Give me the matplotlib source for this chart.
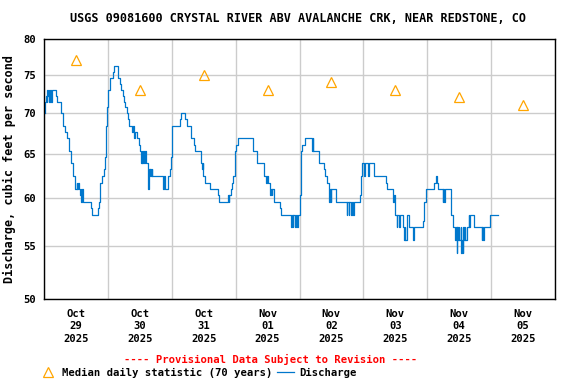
import numpy as np
import pandas as pd
import matplotlib
matplotlib.use("Agg")
import matplotlib.pyplot as plt
import matplotlib.dates as mdates
from matplotlib.lines import Line2D
from matplotlib.ticker import FixedLocator, NullLocator, FuncFormatter

# discharge step changes: hours after 2025-10-29 00:00, value in cfs
hours = [0.25, 0.5, 0.75, 1.0, 1.25, 1.5, 1.75, 2.0, 2.25, 2.5, 2.75, 3.0, 4.5, 5.0,
         6.25, 6.5, 7.25, 8.0, 8.5, 9.25, 9.5, 10.25, 11.0, 11.75, 12.25, 12.5, 12.75,
         13.0, 13.5, 13.75, 14.0, 14.25, 14.75, 17.5, 17.9, 20.4, 20.75, 21.1, 21.75,
         22.5, 22.9, 23.25, 23.5, 24.1, 24.9, 25.9, 26.25, 27.9, 28.5, 28.9, 29.6, 30.1,
         30.4, 31.0, 31.6, 32.0, 33.25, 33.5, 33.75, 34.0, 34.25, 35.0, 35.6, 36.0, 36.5,
         36.75, 37.0, 37.25, 37.75, 38.0, 38.5, 39.1, 39.25, 39.5, 39.75, 40.0, 40.25,
         40.5, 40.75, 44.75, 45.0, 45.5, 46.6, 47.25, 47.9, 48.25, 51.0, 51.6, 53.1,
         53.9, 55.1, 56.25, 56.6, 59.1, 59.4, 59.6, 59.75, 60.6, 62.25, 65.4, 65.75,
         69.1, 69.4, 69.6, 70.1, 70.75, 71.0, 71.6, 72.25, 72.9, 78.5, 80.0, 82.5, 83.5,
         83.75, 84.0, 84.75, 85.0, 85.25, 85.5, 85.75, 86.6, 88.5, 89.1, 92.9, 93.1, 93.4,
         93.6, 94.25, 94.5, 95.0, 95.25, 95.75, 96.25, 96.5, 96.75, 97.0, 97.9, 100.75,
         101.0, 101.25, 103.5, 105.1, 105.4, 106.4, 107.0, 107.25, 107.5, 107.75, 108.0,
         109.75, 113.75, 114.0, 114.5, 114.75, 115.5, 115.75, 116.25, 116.5, 118.25,
         118.75, 119.1, 119.5, 120.4, 120.6, 121.75, 122.0, 124.1, 128.5, 128.9, 131.0,
         131.25, 131.5, 132.0, 132.5, 132.75, 133.5, 133.75, 135.0, 135.25, 135.5, 135.75,
         136.25, 137.0, 138.75, 139.0, 142.25, 142.9, 143.5, 146.6, 147.25, 147.5, 147.9,
         149.75, 150.0, 150.25, 150.5, 152.9, 153.1, 153.5, 154.5, 154.75, 155.0, 155.25,
         155.5, 155.75, 156.0, 156.5, 156.75, 157.0, 157.25, 157.5, 157.75, 158.0, 158.25,
         158.75, 159.5, 159.75, 160.0, 161.4, 164.1, 164.5, 164.75, 165.0, 165.5, 166.25,
         167.5, 170.4]
flow = [70.0, 71.4, 72.2, 71.4, 72.9, 72.2, 72.9, 71.4, 72.9, 72.2, 71.4, 72.9, 72.2, 71.4,
        70.7, 70.0, 68.4, 67.6, 66.9, 66.1, 65.3, 63.9, 62.5, 61.0, 61.7, 61.0, 61.7,
        61.0, 60.3, 61.0, 59.6, 61.0, 59.6, 58.9, 58.2, 58.9, 59.6, 61.7, 62.5,
        63.2, 64.6, 68.4, 70.7, 72.9, 74.5, 75.4, 76.2, 74.5, 73.7, 72.9, 72.2, 71.4,
        70.7, 70.0, 69.2, 68.4, 67.6, 68.4, 67.6, 66.9, 67.6, 66.9, 66.1, 65.3, 63.9,
        65.3, 63.9, 65.3, 63.9, 65.3, 63.9, 62.5, 61.0, 63.2, 62.5, 63.2, 62.5,
        63.2, 62.5, 61.0, 62.5, 61.0, 62.5, 63.2, 64.6, 68.4, 69.2, 70.0, 69.2,
        68.4, 66.9, 66.1, 65.3, 63.9, 63.2, 63.9, 62.5, 61.7, 61.0, 60.3, 59.6,
        60.3, 59.6, 60.3, 61.0, 61.7, 62.5, 65.3, 66.1, 66.9, 65.3, 63.9, 62.5, 61.7,
        62.5, 61.7, 61.0, 60.3, 61.0, 60.3, 61.0, 59.6, 58.9, 58.2, 56.9, 58.2, 56.9,
        58.2, 56.9, 58.2, 56.9, 58.2, 58.2, 60.3, 63.2, 65.3, 66.1, 66.9, 65.3,
        66.9, 65.3, 63.9, 63.2, 62.5, 61.7, 61.0, 59.6, 61.0, 59.6, 61.0,
        59.6, 58.2, 59.6, 58.2, 59.6, 58.2, 59.6, 58.2, 59.6, 59.6,
        60.3, 62.5, 63.9, 62.5, 63.9, 62.5, 63.9, 62.5, 61.7, 61.0, 60.3,
        59.6, 60.3, 58.2, 56.9, 58.2, 56.9, 58.2, 56.9, 55.6, 56.9, 55.6,
        58.2, 56.9, 55.6, 56.9, 57.6, 59.6, 61.0, 61.7, 62.5, 61.7, 61.0,
        59.6, 61.0, 59.6, 61.0, 59.6, 58.2, 56.9, 55.6, 56.9, 54.3, 56.9,
        55.6, 56.9, 55.6, 56.9, 54.3, 55.6, 54.3, 56.9, 55.6, 56.9, 55.6,
        56.9, 58.2, 56.9, 58.2, 56.9, 56.9, 55.6, 56.9, 55.6, 56.9, 56.9,
        58.2, 58.2]

# median daily statistic (70 years), plotted at noon of each day
median_days = ["2025-10-29", "2025-10-30", "2025-10-31", "2025-11-01",
               "2025-11-02", "2025-11-03", "2025-11-04", "2025-11-05"]
median_vals = [77, 73, 75, 73, 74, 73, 72, 71]

y_ticks = [50, 55, 60, 65, 70, 75, 80]

start = pd.Timestamp("2025-10-29 00:00")
t = start + pd.to_timedelta(hours, unit="h")
t_med = pd.to_datetime(median_days) + pd.Timedelta(hours=12)

mono = "DejaVu Sans Mono"
fs_big = 8.5    # title and y label
fs = 7.6        # ticks, legend, notice

fig = plt.figure(figsize=(5.76, 3.84), dpi=100)
ax = fig.add_axes([44 / 576, 85 / 384, 511 / 576, 260 / 384])

ax.plot(t, flow, drawstyle="steps-post", color="#0077CC", lw=0.9)
ax.plot(t_med, median_vals, ls="none", marker="^", ms=7.5, mfc="none",
        mec="#FFA500", mew=0.9)

ax.set_yscale("log")
ax.set_ylim(50, 80)
ax.yaxis.set_major_locator(FixedLocator(y_ticks))
ax.yaxis.set_minor_locator(NullLocator())
ax.yaxis.set_major_formatter(FuncFormatter(lambda v, p: "%d" % v))

ax.set_xlim(start, start + pd.Timedelta(days=8))
ax.xaxis.set_major_locator(mdates.DayLocator())
ax.xaxis.set_major_formatter(plt.NullFormatter())
ax.xaxis.set_minor_locator(mdates.HourLocator(byhour=12))
ax.xaxis.set_minor_formatter(mdates.DateFormatter("%b\n%d\n%Y"))

ax.grid(True, which="major", color="#CCCCCC", lw=1.0)
ax.set_axisbelow(True)
ax.tick_params(which="both", length=0)
ax.tick_params(axis="y", pad=6)
ax.tick_params(axis="x", which="minor", pad=7)
for lab in ax.get_yticklabels() + ax.get_xticklabels(minor=True):
    lab.set_fontfamily(mono)
    lab.set_fontweight("bold")
    lab.set_fontsize(fs)
for lab in ax.get_xticklabels(minor=True):
    lab.set_linespacing(1.33)
for s in ax.spines.values():
    s.set_linewidth(1.0)

ax.set_ylabel("Discharge, cubic feet per second", family=mono,
              weight="bold", fontsize=fs_big, labelpad=5)
fig.text(297.5 / 576, 1 - 19 / 384,
         "USGS 09081600 CRYSTAL RIVER ABV AVALANCHE CRK, NEAR REDSTONE, CO",
         ha="center", va="center", family=mono, weight="bold", fontsize=fs_big)
fig.text(271 / 576, 1 - 359 / 384, "---- Provisional Data Subject to Revision ----",
         ha="center", va="center", family=mono, weight="bold", fontsize=fs, color="red")

handles = [Line2D([], [], ls="none", marker="^", ms=7.5, mfc="none", mec="#FFA500", mew=0.9),
           Line2D([], [], color="#0077CC", lw=0.9)]
fig.legend(handles, ["Median daily statistic (70 years)", "Discharge"],
           loc="center left", bbox_to_anchor=(40 / 576, 1 - 373 / 384), ncol=2,
           frameon=False, handlelength=1.6, handletextpad=0.45, columnspacing=0.5,
           borderpad=0, borderaxespad=0,
           prop={"family": mono, "weight": "bold", "size": fs})

fig.savefig("out.png", dpi=100)
